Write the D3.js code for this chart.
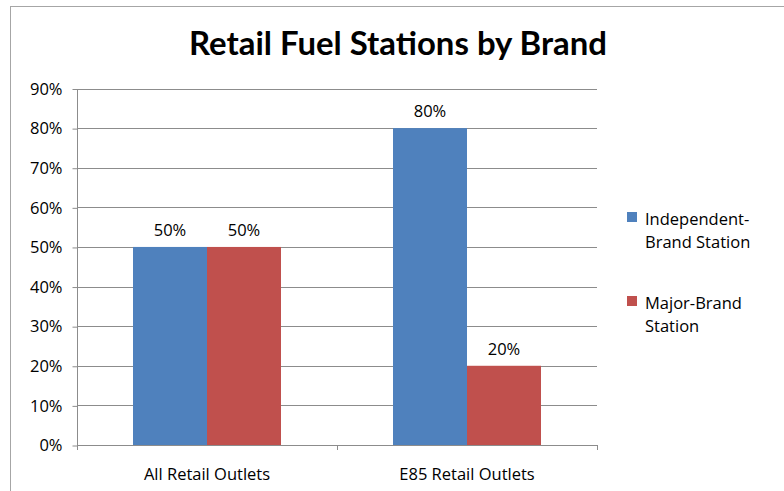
<!DOCTYPE html>
<html><head><meta charset="utf-8">
<script src="https://cdn.jsdelivr.net/npm/d3@7"></script>
<style>html,body{margin:0;padding:0;background:#fff;} svg{display:block;}</style>
</head><body>
<svg id="c" width="784" height="491"></svg>
<script>
const categories = ["All Retail Outlets", "E85 Retail Outlets"];
const seriesNames = ["Independent-Brand Station", "Major-Brand Station"];
const legendLines = [["Independent-", "Brand Station"], ["Major-Brand", "Station"]];
const independentValues = [0.5, 0.8];
const majorValues = [0.5, 0.2];
const yTicks = [0, 0.1, 0.2, 0.3, 0.4, 0.5, 0.6, 0.7, 0.8, 0.9];
const colors = ["#4F81BD", "#C0504D"];
const title = "Retail Fuel Stations by Brand";

(function () {
const FONT = "'Open Sans', sans-serif";
const TFONT = "Lato, 'Open Sans', sans-serif";
const FS = 16.5;
const svg = d3.select("#c");
svg.append("rect").attr("x", 10.5).attr("y", 6.5).attr("width", 790).attr("height", 500)
  .attr("fill", "#fff").attr("stroke", "#a6a6a6").attr("stroke-width", 1);

const pLeft = 77, pRight = 597, pTop = 88.5, pBottom = 445;
const y = d3.scaleLinear().domain([0, 0.9]).range([pBottom, pTop]);
const x0 = d3.scaleBand().domain(categories).range([pLeft, pRight]).paddingInner(0).paddingOuter(0);
const x1 = d3.scaleBand().domain(seriesNames).range([0, 148]);
const groupOffset = (x0.bandwidth() - 148) / 2;

// gridlines
svg.append("g").selectAll("line").data(yTicks.slice(1)).join("line")
  .attr("x1", pLeft).attr("x2", pRight)
  .attr("y1", d => Math.round(y(d)) + 0.5).attr("y2", d => Math.round(y(d)) + 0.5)
  .attr("stroke", "#8c8c8c").attr("stroke-width", 1);

// y axis
const yAxis = d3.axisLeft(y).tickValues(yTicks).tickFormat(d3.format(".0%")).tickSize(5).tickPadding(10);
const gy = svg.append("g").attr("transform", `translate(${pLeft + 0.5},0.5)`).call(yAxis);
gy.selectAll("path,line").attr("stroke", "#8c8c8c");
gy.select(".domain").attr("d", `M0,${pTop}V${pBottom}`);
gy.selectAll("text").attr("font-family", FONT).attr("font-size", FS).attr("fill", "#000");

// bars
const data = categories.map((c, i) => ({cat: c, vals: [independentValues[i], majorValues[i]]}));
const groups = svg.append("g").selectAll("g").data(data).join("g")
  .attr("transform", d => `translate(${x0(d.cat) + groupOffset},0)`);
groups.selectAll("rect").data(d => d.vals.map((v, k) => ({v, k}))).join("rect")
  .attr("x", d => x1(seriesNames[d.k])).attr("width", x1.bandwidth())
  .attr("y", d => y(d.v)).attr("height", d => pBottom - y(d.v))
  .attr("fill", d => colors[d.k]);
groups.selectAll("text").data(d => d.vals.map((v, k) => ({v, k}))).join("text")
  .attr("x", d => x1(seriesNames[d.k]) + x1.bandwidth() / 2)
  .attr("y", d => y(d.v) - 11)
  .attr("text-anchor", "middle").attr("font-family", FONT).attr("font-size", FS).attr("fill", "#000")
  .text(d => d3.format(".0%")(d.v));

// x axis
const xAxis = d3.axisBottom(x0).tickSize(0).tickPadding(23);
const gx = svg.append("g").attr("transform", `translate(0,${pBottom + 0.5})`).call(xAxis);
gx.select(".domain").attr("stroke", "#8c8c8c").attr("d", `M${pLeft},0H${pRight}`);
gx.selectAll("text").attr("font-family", FONT).attr("font-size", FS).attr("fill", "#000");
const bounds = [pLeft, ...categories.map(c => x0(c) + x0.bandwidth())];
svg.append("g").selectAll("line").data(bounds).join("line")
  .attr("x1", d => Math.round(d) + 0.5).attr("x2", d => Math.round(d) + 0.5)
  .attr("y1", pBottom).attr("y2", pBottom + 5).attr("stroke", "#8c8c8c");

// title
const t = svg.append("text").attr("x", 398).attr("y", 55).attr("text-anchor", "middle")
  .attr("font-family", TFONT).attr("font-weight", "bold").attr("font-size", 28).attr("fill", "#000").text(title);
const w = t.node().getComputedTextLength();
t.attr("font-size", 28 * 418 / w);

// legend
const lg = svg.append("g").selectAll("g").data(seriesNames).join("g")
  .attr("transform", (d, i) => `translate(627,${212 + i * 84})`);
lg.append("rect").attr("width", 10).attr("height", 10).attr("fill", (d, i) => colors[i]);
lg.append("text").attr("font-family", FONT).attr("font-size", FS).attr("fill", "#000")
  .selectAll("tspan").data((d, i) => legendLines[i]).join("tspan")
  .attr("x", 18).attr("y", (d, j) => 12.5 + j * 23).text(d => d);
})();
</script>
</body></html>
